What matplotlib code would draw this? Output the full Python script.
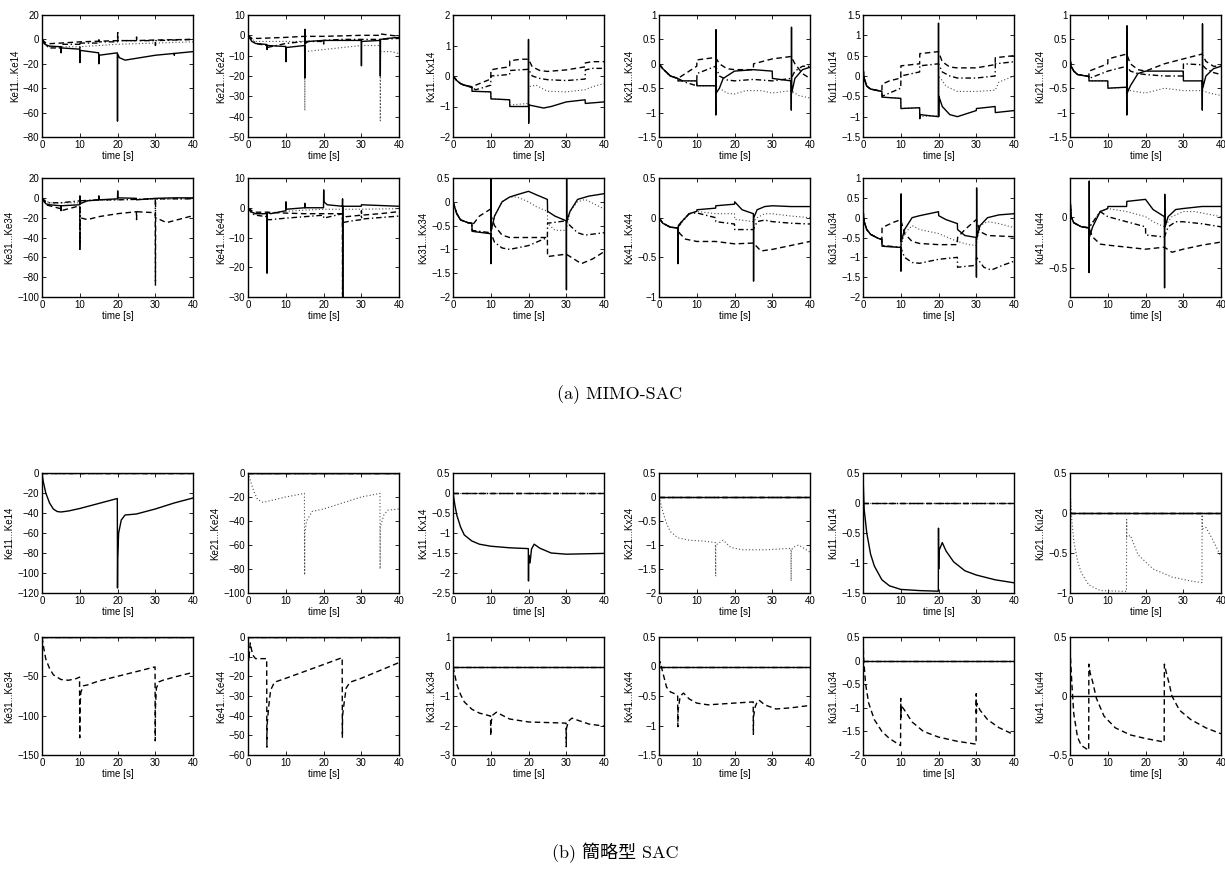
import matplotlib.pyplot as plt
from matplotlib.ticker import FuncFormatter

# ---------------- (a) MIMO-SAC : gains K11..K14 / K21..K24 ----------------
a_ke1 = {
    'solid': [(0, 0), (0.5, -3), (1, -4.5), (2, -5.5), (5, -6), (5.05, -10), (5.1, -7), (10, -8), (10.05, -19),
              (10.1, -9), (15, -11), (15.05, -20), (15.1, -13), (19.95, -11), (20, -67), (20.05, -12), (20.5, -15),
              (22, -17), (26, -15), (30, -13), (35, -11.5), (35.05, -13), (35.1, -11.5), (40, -10)],
    'dashed': [(0, 0), (1, -3), (2, -3.5), (5, -3), (10, -2), (15, -1.5), (20, -1), (25, -1), (30, -0.5), (40, 0)],
    'dashdot': [(0, 0), (1, -5), (2, -7), (5, -7), (5.05, -11), (5.1, -4), (10, -4), (10.05, -12), (10.1, -3),
                (15, -3), (15.05, 1), (15.1, -2), (20, -2), (20.05, 7), (20.1, -1), (25, -1), (25.05, 2), (25.1, -1),
                (30, -1), (30.05, -5), (30.1, -1), (40, 0)],
    'dotted': [(0, 0), (1, -4), (2, -6), (10, -6), (15, -5), (20, -4), (25, -3.5), (30, -3), (35, -2.5), (40, -2)],
}
a_ke2 = {
    'solid': [(0, 0), (1, -3), (2, -4), (5, -4.5), (5.05, -7), (5.1, -5), (10, -5.5), (10.05, -13), (10.1, -6),
              (15, -5), (15.05, -21), (15.1, 3), (15.15, -4), (16, -3), (20, -2.5), (25, -2.5), (30, -2.5),
              (30.05, -15), (30.1, -3), (35, -2.5), (35.05, -20), (35.1, -2), (37, -1.5), (40, -1)],
    'dashed': [(0, 0), (1, -1.5), (3, -1.5), (10, -1), (15, -0.5), (20, -0.5), (30, 0), (35, 0), (35.05, 0.7),
               (40, -0.5)],
    'dashdot': [(0, 0), (1, -2), (2, -4), (5, -5), (5.05, -6), (10, -4), (15, -3), (20, -3), (20.05, -5),
                (20.1, -2.5), (25, -2), (30, -2), (35, -2), (40, -1.5)],
    'dotted': [(0, 0), (1, -2), (2, -3), (10, -3), (15, -3), (15.05, -37), (15.1, -8), (20, -7), (25, -6), (30, -5),
               (35, -5), (35.05, -42), (35.1, -8), (38, -8), (40, -9)],
}
a_kx1 = {
    'solid': [(0, 0), (1, -0.15), (2, -0.25), (3, -0.3), (5, -0.35), (5.05, -0.5), (10, -0.52), (10.05, -0.75),
              (15, -0.78), (15.05, -1.0), (19.95, -1.0), (20, 1.2), (20.05, -1.55), (20.1, -0.95), (24, -1.05),
              (26, -1.0), (30, -0.85), (35, -0.78), (35.05, -0.9), (40, -0.85)],
    'dashed': [(0, 0), (1, -0.15), (2, -0.25), (3, -0.3), (5, -0.38), (6, -0.3), (8, -0.2), (10, -0.1),
               (10.05, 0.2), (12, 0.25), (15, 0.3), (15.05, 0.5), (18, 0.55), (20, 0.55), (21, 0.3), (23, 0.18),
               (25, 0.15), (30, 0.2), (35, 0.3), (35.05, 0.43), (37, 0.47), (40, 0.47)],
    'dashdot': [(0, 0), (1, -0.15), (2, -0.25), (3, -0.3), (5, -0.38), (6, -0.45), (8, -0.38), (10, -0.3),
                (10.05, 0.0), (15, 0.05), (15.05, 0.18), (20, 0.22), (21, 0.0), (23, -0.08), (25, -0.12),
                (30, -0.15), (35, -0.1), (35.05, 0.2), (37, 0.25), (40, 0.25)],
    'dotted': [(0, 0), (1, -0.15), (2, -0.25), (3, -0.3), (5, -0.35), (5.05, -0.5), (10, -0.52), (10.05, -0.75),
               (15, -0.78), (15.05, -0.95), (20, -0.9), (20.05, -0.35), (22, -0.3), (25, -0.5), (30, -0.52),
               (35, -0.45), (37, -0.35), (40, -0.25)],
}
a_kx2 = {
    'solid': [(0, 0), (1, -0.1), (3, -0.25), (5, -0.3), (5.05, -0.35), (10, -0.35), (10.05, -0.45), (15, -0.45),
              (15.05, -1.05), (15.1, 0.7), (15.15, -0.6), (16, -0.5), (17, -0.3), (20, -0.15), (25, -0.12),
              (30, -0.15), (30.05, -0.3), (35, -0.35), (35.05, -0.95), (35.1, 0.75), (35.15, -0.6), (36, -0.3),
              (38, -0.12), (40, -0.07)],
    'dashed': [(0, 0), (1, -0.1), (3, -0.25), (5, -0.3), (7, -0.2), (10, -0.05), (10.05, 0.08), (15, 0.13),
               (16, 0.0), (18, -0.1), (20, -0.12), (25, -0.12), (25.05, 0.0), (30, 0.1), (35, 0.15), (36, 0.0),
               (38, -0.2), (40, -0.3)],
    'dashdot': [(0, 0), (1, -0.1), (3, -0.25), (5, -0.3), (7, -0.38), (10, -0.45), (10.05, -0.2), (15, -0.05),
                (16, -0.25), (18, -0.33), (20, -0.35), (25, -0.32), (30, -0.35), (35, -0.3), (36, -0.15),
                (38, -0.05), (40, -0.05)],
    'dotted': [(0, 0), (1, -0.1), (3, -0.25), (5, -0.3), (5.05, -0.35), (10, -0.35), (10.05, -0.45), (15, -0.45),
               (16, -0.5), (18, -0.6), (20, -0.62), (23, -0.55), (27, -0.55), (30, -0.6), (35, -0.55), (37, -0.65),
               (40, -0.7)],
}
a_ku1 = {
    'solid': [(0, 0.2), (0.3, -0.05), (1, -0.25), (2, -0.32), (5, -0.38), (5.05, -0.52), (10, -0.55),
              (10.05, -0.8), (15, -0.78), (15.05, -1.05), (15.1, -0.95), (19.95, -1.0), (20, 1.3), (20.05, -1.0),
              (20.1, -0.5), (21, -0.75), (23, -0.95), (25, -1.0), (30, -0.85), (30.05, -0.8), (35, -0.75),
              (35.05, -0.9), (40, -0.85)],
    'dashed': [(0, 0.2), (0.3, -0.05), (1, -0.25), (2, -0.32), (5, -0.38), (5.05, -0.2), (7, -0.12), (10, -0.05),
               (10.05, 0.25), (15, 0.3), (15.05, 0.55), (20, 0.6), (21, 0.35), (23, 0.22), (25, 0.2), (30, 0.2),
               (35, 0.28), (35.05, 0.45), (40, 0.5)],
    'dashdot': [(0, 0.2), (0.3, -0.05), (1, -0.25), (2, -0.32), (5, -0.38), (5.05, -0.5), (7, -0.42), (10, -0.3),
                (10.05, 0.0), (15, 0.1), (15.05, 0.25), (20, 0.3), (21, 0.1), (23, 0.0), (25, -0.05), (30, -0.05),
                (35, 0.0), (35.05, 0.3), (40, 0.35)],
    'dotted': [(0, 0.2), (0.3, -0.05), (1, -0.25), (2, -0.32), (5, -0.38), (5.05, -0.52), (10, -0.55),
               (10.05, -0.8), (15, -0.78), (15.05, -1.0), (20, -0.98), (20.1, 0.0), (22, -0.25), (25, -0.38),
               (30, -0.38), (35, -0.35), (36, -0.15), (40, 0.0)],
}
a_ku2 = {
    'solid': [(0, 0.1), (0.3, -0.05), (1, -0.15), (2, -0.22), (5, -0.26), (5.05, -0.35), (10, -0.35),
              (10.05, -0.5), (15, -0.48), (15.05, -1.05), (15.1, 0.78), (15.15, -0.6), (16, -0.45), (18, -0.2),
              (20, -0.15), (25, -0.15), (30, -0.15), (30.05, -0.35), (35, -0.35), (35.05, -0.95), (35.1, 0.82),
              (35.15, -0.5), (36, -0.25), (38, -0.1), (40, -0.05)],
    'dashed': [(0, 0.1), (0.3, -0.05), (1, -0.15), (2, -0.22), (5, -0.26), (5.05, -0.15), (10, 0.0), (10.05, 0.1),
               (15, 0.2), (16, 0.0), (18, -0.12), (20, -0.15), (25, 0.0), (30, 0.1), (35, 0.2), (36, 0.05),
               (38, -0.05), (40, -0.05)],
    'dashdot': [(0, 0.1), (0.3, -0.05), (1, -0.15), (2, -0.22), (5, -0.26), (5.05, -0.3), (10, -0.15),
                (15, -0.05), (16, -0.15), (18, -0.2), (20, -0.22), (25, -0.25), (30, -0.25), (30.05, 0.0),
                (35, -0.02), (36, -0.1), (38, -0.18), (40, -0.22)],
    'dotted': [(0, 0.1), (0.3, -0.05), (1, -0.15), (2, -0.22), (5, -0.26), (5.05, -0.35), (10, -0.35),
               (10.05, -0.5), (15, -0.48), (16, -0.55), (20, -0.6), (25, -0.5), (30, -0.55), (35, -0.55),
               (37, -0.6), (40, -0.65)],
}

# ---------------- (a) MIMO-SAC : gains K31..K34 / K41..K44 ----------------
a_ke3 = {
    'solid': [(0, 0), (1, -6), (2, -7), (5, -8), (5.05, -13), (5.1, -8), (10, -7), (10.05, 2), (10.1, -6), (12, -3),
              (15, -2), (15.05, 2), (15.1, -2), (20, -1), (20.05, 7), (20.1, 0), (25, -0.5), (25.05, -2), (30, -0.5),
              (35, 0), (40, 0)],
    'dashed': [(0, 0), (1, -7), (2, -8), (5, -11), (5.05, -13), (10, -8), (10.05, -50), (10.1, -20), (12, -22),
               (15, -19), (20, -16), (25, -14), (25.05, -22), (25.1, -14), (30, -15), (30.05, -88), (30.1, -20),
               (33, -25), (36, -22), (40, -18)],
    'dashdot': [(0, 0), (1, -4), (2, -5), (5, -5), (10, -3), (10.05, -52), (10.1, -3), (15, -2), (20, -2),
                (25, -1.5), (30, -1), (30.05, -18), (30.1, -1), (40, -1)],
    'dotted': [(0, 0), (1, -3), (2, -5), (5, -5), (10, -5), (12, -3), (20, -2), (30, -1.5), (40, -1)],
}
a_ke4 = {
    'solid': [(0, 0), (1, -1.5), (2, -2), (5, -2), (5.05, -22), (5.1, -1.5), (6, -2), (10, -1), (10.05, 2),
              (10.1, -0.5), (15, 0), (15.05, 1.5), (15.1, 0), (20, 0), (20.05, 6), (20.1, 2), (21, 1), (25, 0.5),
              (25.05, 3), (25.1, -30), (25.15, 0.5), (30, 0.5), (30.05, 1), (40, 0.5)],
    'dashed': [(0, 0), (1, -1), (2, -1.5), (5, -1.5), (10, -1.8), (15, -2), (20, -2), (25, -2), (25.05, -4.5),
               (26, -3), (30, -2.5), (35, -2), (40, -1.3)],
    'dashdot': [(0, 0), (1, -2), (2, -2.5), (5, -3), (5.05, -4), (6, -4), (10, -3.5), (15, -3), (20, -2.5),
                (20.05, -3.5), (25, -2), (25.05, -30), (25.1, -5), (27, -4.5), (30, -4), (30.05, -1), (30.1, -3.8),
                (35, -3.3), (40, -2.8)],
    'dotted': [(0, 0), (1, -1.5), (2, -2), (5, -2), (10, -1.2), (15, -0.8), (20, -0.5), (25, -0.5), (30, -0.5),
               (40, -0.3)],
}
a_kx3 = {
    'solid': [(0, 0), (1, -0.25), (2, -0.38), (4, -0.44), (5, -0.45), (5.05, -0.62), (10, -0.67), (10.05, -1.3),
              (10.1, 0.5), (10.15, -0.6), (11, -0.3), (13, 0.0), (15, 0.1), (17, 0.15), (20, 0.22), (22, 0.15),
              (25, 0.05), (25.05, -0.2), (27, -0.3), (30, -0.4), (30.05, -1.85), (30.1, 0.5), (30.15, -0.4),
              (31, -0.2), (33, 0.05), (36, 0.12), (40, 0.17)],
    'dashed': [(0, 0), (1, -0.25), (2, -0.38), (4, -0.44), (5, -0.45), (5.05, -0.5), (7, -0.3), (10, -0.15),
               (10.05, 0.5), (10.1, -0.3), (11, -0.5), (13, -0.7), (15, -0.75), (20, -0.75), (25, -0.75),
               (25.05, -1.15), (28, -1.12), (30, -1.1), (32, -1.2), (34, -1.3), (37, -1.2), (40, -1.05)],
    'dashdot': [(0, 0), (1, -0.25), (2, -0.38), (4, -0.44), (5, -0.45), (5.05, -0.6), (10, -0.65), (11, -0.85),
                (13, -0.97), (15, -1.0), (20, -0.92), (25, -0.75), (25.05, -0.45), (28, -0.42), (30, -0.4),
                (31, -0.5), (33, -0.65), (35, -0.7), (40, -0.65)],
    'dotted': [(0, 0), (1, -0.25), (2, -0.38), (4, -0.44), (5, -0.45), (5.05, -0.62), (10, -0.67), (11, -0.3),
               (13, 0.0), (15, 0.1), (17, 0.1), (20, 0.0), (22, -0.1), (25, -0.2), (25.05, -0.45), (27, -0.6),
               (30, -0.6), (31, -0.2), (33, 0.0), (35, 0.05), (40, -0.15)],
}
a_kx4 = {
    'solid': [(0, 0), (1, -0.07), (3, -0.12), (5, -0.13), (5.05, -0.58), (5.1, -0.1), (6, -0.05), (8, 0.05),
              (10, 0.08), (10.05, 0.1), (15, 0.12), (15.05, 0.15), (20, 0.17), (20.05, 0.2), (22, 0.1), (25, 0.05),
              (25.05, -0.8), (25.1, 0.0), (26, 0.1), (28, 0.14), (30, 0.15), (35, 0.14), (40, 0.14)],
    'dashed': [(0, 0), (1, -0.07), (3, -0.12), (5, -0.13), (5.5, -0.2), (7, -0.27), (10, -0.3), (15, -0.3),
               (20, -0.33), (25, -0.32), (27, -0.42), (30, -0.4), (35, -0.35), (40, -0.3)],
    'dashdot': [(0, 0), (1, -0.07), (3, -0.12), (5, -0.13), (6, -0.05), (8, 0.05), (10, 0.06), (15, 0.0),
                (15.05, -0.05), (20, -0.08), (20.05, -0.15), (25, -0.15), (26, -0.05), (28, -0.03), (30, -0.05),
                (35, -0.07), (40, -0.08)],
    'dotted': [(0, 0), (1, -0.07), (3, -0.12), (5, -0.13), (8, 0.05), (10, 0.08), (15, 0.05), (20, 0.05),
               (20.05, -0.02), (25, -0.05), (26, 0.0), (28, 0.05), (30, 0.05), (35, 0.02), (40, 0.0)],
}
a_ku3 = {
    'solid': [(0, 0.2), (0.3, -0.1), (1, -0.3), (2, -0.42), (4, -0.52), (5, -0.55), (5.05, -0.72), (10, -0.75),
              (10.05, -1.35), (10.1, 0.6), (10.15, -0.6), (11, -0.3), (13, 0.0), (15, 0.05), (20, 0.15),
              (20.05, 0.05), (22, -0.05), (25, -0.15), (25.05, -0.3), (27, -0.45), (30, -0.5), (30.05, -1.5),
              (30.1, 0.75), (30.15, -0.5), (31, -0.2), (33, 0.0), (36, 0.07), (40, 0.1)],
    'dashed': [(0, 0.2), (0.3, -0.1), (1, -0.3), (2, -0.42), (4, -0.52), (5, -0.55), (5.05, -0.25), (8, -0.12),
               (10, -0.05), (11, -0.4), (13, -0.6), (15, -0.65), (20, -0.68), (25, -0.68), (25.05, -0.5), (27, -0.3),
               (30, -0.05), (31, -0.35), (33, -0.45), (40, -0.48)],
    'dashdot': [(0, 0.2), (0.3, -0.1), (1, -0.3), (2, -0.42), (4, -0.52), (5, -0.55), (5.05, -0.7), (10, -0.75),
                (11, -1.0), (13, -1.13), (15, -1.15), (20, -1.05), (25, -1.0), (25.05, -1.25), (30, -1.2),
                (30.05, -1.0), (32, -1.25), (34, -1.32), (37, -1.2), (40, -1.1)],
    'dotted': [(0, 0.2), (0.3, -0.1), (1, -0.3), (2, -0.42), (4, -0.52), (5, -0.55), (5.05, -0.72), (10, -0.75),
               (11, -0.4), (13, -0.2), (15, -0.3), (20, -0.4), (25, -0.6), (28, -0.68), (30, -0.7), (31, -0.2),
               (33, -0.1), (36, -0.15), (40, -0.25)],
}
a_ku4 = {
    'solid': [(0, 0.2), (0.3, 0.0), (1, -0.06), (3, -0.1), (5, -0.11), (5.05, -0.55), (5.1, 0.35), (5.15, -0.2),
              (6, -0.1), (8, 0.05), (10, 0.08), (10.05, 0.1), (15, 0.1), (15.05, 0.15), (20, 0.17), (22, 0.07),
              (25, 0.0), (25.05, -0.7), (25.1, 0.22), (25.15, -0.1), (26, 0.0), (28, 0.07), (30, 0.08), (35, 0.1),
              (40, 0.1)],
    'dashed': [(0, 0.2), (0.3, 0.0), (1, -0.06), (3, -0.1), (5, -0.11), (6, -0.2), (8, -0.27), (10, -0.28),
               (15, -0.3), (20, -0.32), (25, -0.3), (27, -0.35), (30, -0.32), (35, -0.28), (40, -0.25)],
    'dashdot': [(0, 0.2), (0.3, 0.0), (1, -0.06), (3, -0.1), (5, -0.11), (8, 0.05), (10, 0.0), (15, -0.05),
                (20, -0.1), (20.05, -0.18), (25, -0.2), (26, -0.1), (28, -0.05), (30, -0.05), (35, -0.07),
                (40, -0.1)],
    'dotted': [(0, 0.2), (0.3, 0.0), (1, -0.06), (3, -0.1), (5, -0.11), (8, 0.05), (10, 0.08), (15, 0.05),
               (20, 0.0), (22, -0.05), (25, -0.1), (27, 0.0), (30, 0.05), (33, 0.05), (40, 0.0)],
}

# ---------------- (b) simplified SAC ----------------
zero = [(0, 0), (40, 0)]
b_ke1 = {'dashed': zero, 'dashdot': zero, 'dotted': zero,
         'solid': [(0, 0), (0.3, -8), (1, -20), (2, -30), (3, -36), (4, -38.5), (5, -39), (7, -38), (10, -35.5),
                   (15, -30.5), (19.95, -25.5), (20, -115), (20.05, -85), (20.3, -60), (21, -47), (22, -42),
                   (25, -41), (30, -36), (35, -30), (40, -25)]}
b_ke2 = {'solid': zero, 'dashed': zero, 'dashdot': zero,
         'dotted': [(0, 0), (0.5, -5), (1.5, -15), (2.5, -22), (4, -24.5), (6, -23), (10, -20), (14.95, -17),
                    (15, -85), (15.05, -50), (15.5, -40), (17, -32), (20, -30), (25, -25), (30, -20), (34.95, -17),
                    (35, -80), (35.05, -45), (36, -35), (37, -31), (40, -30)]}
b_kx1 = {'dashed': zero, 'dashdot': zero, 'dotted': zero,
         'solid': [(0, 0), (0.5, -0.3), (1, -0.55), (2, -0.85), (3, -1.05), (5, -1.2), (7, -1.28), (10, -1.33),
                   (15, -1.37), (19.95, -1.39), (20, -2.2), (20.05, -1.55), (20.4, -1.75), (20.8, -1.4),
                   (21.5, -1.28), (23, -1.38), (26, -1.5), (30, -1.53), (35, -1.52), (40, -1.51)]}
b_kx2 = {'dashed': zero, 'dashdot': zero, 'solid': zero,
         'dotted': [(0, 0), (1, -0.3), (2, -0.55), (3, -0.72), (5, -0.85), (8, -0.9), (12, -0.92), (14.95, -0.95),
                    (15, -1.65), (15.05, -1.0), (16, -0.95), (17, -0.9), (19, -1.05), (22, -1.1), (28, -1.1),
                    (34.95, -1.07), (35, -1.75), (35.05, -1.1), (36, -1.03), (37, -1.0), (40, -1.15)]}
b_ku1 = {'dashed': zero, 'dashdot': zero, 'dotted': zero,
         'solid': [(0, 0.45), (0.3, -0.1), (1, -0.5), (2, -0.85), (3, -1.05), (5, -1.28), (7, -1.38), (10, -1.44),
                   (15, -1.46), (19.95, -1.47), (20, -0.42), (20.05, -1.1), (20.1, -0.8), (21, -0.66), (22, -0.8),
                   (24, -0.98), (27, -1.13), (30, -1.2), (35, -1.28), (40, -1.33)]}
b_ku2 = {'dashed': zero, 'dashdot': zero, 'solid': zero,
         'dotted': [(0, 0.3), (0.5, -0.1), (1, -0.35), (2, -0.6), (3, -0.75), (5, -0.9), (8, -0.97),
                    (14.95, -0.98), (15, -0.08), (15.05, -0.3), (16, -0.28), (18, -0.52), (22, -0.7), (27, -0.8),
                    (32, -0.85), (34.95, -0.87), (35, 0.0), (35.05, -0.2), (36, -0.18), (38, -0.35), (40, -0.55)]}
b_ke3 = {'solid': zero, 'dashdot': zero, 'dotted': zero,
         'dashed': [(0, 0), (0.5, -15), (1, -28), (2, -40), (3, -48), (5, -54), (7, -55), (9, -53), (9.95, -51),
                    (10, -128), (10.05, -90), (10.3, -70), (11, -62), (12, -61), (15, -56), (20, -50), (25, -44),
                    (29.95, -38), (30, -132), (30.05, -90), (30.3, -65), (31, -57), (32, -55), (35, -51),
                    (40, -45)]}
b_ke4 = {'solid': zero, 'dashdot': zero, 'dotted': zero,
         'dashed': [(0, 0), (0.2, -12), (0.6, -3), (1.2, -9), (2, -11), (4.95, -11), (5, -56), (5.05, -45),
                    (5.5, -35), (6, -27), (7, -23), (10, -21), (15, -17.5), (20, -14), (24.95, -10.5), (25, -51),
                    (25.05, -40), (25.5, -33), (26, -26), (27, -23), (30, -21), (35, -17), (40, -13)]}
b_kx3 = {'solid': zero, 'dashdot': zero, 'dotted': zero,
         'dashed': [(0, 0), (0.5, -0.3), (1, -0.6), (2, -0.95), (3, -1.2), (5, -1.45), (7, -1.58), (9.95, -1.68),
                    (10, -2.35), (10.05, -1.9), (10.5, -1.65), (11.5, -1.55), (13, -1.65), (15, -1.78), (20, -1.88),
                    (25, -1.9), (29.95, -1.92), (30, -2.72), (30.05, -2.1), (30.6, -1.85), (31.5, -1.75),
                    (33, -1.82), (36, -1.95), (40, -2.02)]}
b_kx4 = {'solid': zero, 'dashdot': zero, 'dotted': zero,
         'dashed': [(0, 0), (0.3, 0.08), (0.8, -0.05), (2, -0.35), (3, -0.43), (4.5, -0.47), (4.95, -0.5),
                    (5, -1.02), (5.05, -0.75), (5.5, -0.55), (6, -0.48), (6.5, -0.45), (8, -0.55), (10, -0.62),
                    (13, -0.65), (20, -0.62), (24.95, -0.6), (25, -1.15), (25.05, -0.85), (25.5, -0.68), (26, -0.6),
                    (26.5, -0.57), (28, -0.65), (31, -0.72), (35, -0.7), (40, -0.66)]}
b_ku3 = {'solid': zero, 'dashdot': zero, 'dotted': zero,
         'dashed': [(0, 0.45), (0.2, 0.0), (0.7, -0.5), (1.5, -0.9), (3, -1.25), (5, -1.5), (7, -1.65),
                    (9.95, -1.8), (10, -0.8), (10.05, -1.2), (10.1, -0.95), (11, -1.05), (13, -1.3), (16, -1.5),
                    (20, -1.62), (25, -1.71), (29.95, -1.77), (30, -0.7), (30.05, -1.1), (30.1, -0.9), (31, -1.05),
                    (33, -1.25), (36, -1.42), (40, -1.57)]}
b_ku4 = {'solid': zero,
         'dashed': [(0, 0.4), (0.5, 0.1), (1, -0.15), (2, -0.35), (3, -0.42), (4.95, -0.46), (5, 0.27), (5.3, 0.2),
                    (6, 0.12), (7, -0.02), (9, -0.17), (12, -0.27), (16, -0.33), (20, -0.36), (24.95, -0.39),
                    (25, 0.27), (25.5, 0.2), (26.3, 0.1), (27, 0.0), (29, -0.12), (32, -0.2), (36, -0.27),
                    (40, -0.32)]}

labels_top = ['Ke11...Ke14', 'Ke21...Ke24', 'Kx11...Kx14', 'Kx21...Kx24', 'Ku11...Ku14', 'Ku21...Ku24']
labels_bot = ['Ke31...Ke34', 'Ke41...Ke44', 'Kx31...Kx34', 'Kx41...Kx44', 'Ku31...Ku34', 'Ku41...Ku44']
time_ticks = [0, 10, 20, 30, 40]

rows = [
    # (panel data, y limits, y ticks) for each of the six columns
    [(a_ke1, (-80, 20), [-80, -60, -40, -20, 0, 20]),
     (a_ke2, (-50, 10), [-50, -40, -30, -20, -10, 0, 10]),
     (a_kx1, (-2, 2), [-2, -1, 0, 1, 2]),
     (a_kx2, (-1.5, 1), [-1.5, -1, -0.5, 0, 0.5, 1]),
     (a_ku1, (-1.5, 1.5), [-1.5, -1, -0.5, 0, 0.5, 1, 1.5]),
     (a_ku2, (-1.5, 1), [-1.5, -1, -0.5, 0, 0.5, 1])],
    [(a_ke3, (-100, 20), [-100, -80, -60, -40, -20, 0, 20]),
     (a_ke4, (-30, 10), [-30, -20, -10, 0, 10]),
     (a_kx3, (-2, 0.5), [-2, -1.5, -1, -0.5, 0, 0.5]),
     (a_kx4, (-1, 0.5), [-1, -0.5, 0, 0.5]),
     (a_ku3, (-2, 1), [-2, -1.5, -1, -0.5, 0, 0.5, 1]),
     (a_ku4, (-0.79, 0.38), [-0.5, 0])],
    [(b_ke1, (-120, 0), [-120, -100, -80, -60, -40, -20, 0]),
     (b_ke2, (-100, 0), [-100, -80, -60, -40, -20, 0]),
     (b_kx1, (-2.5, 0.5), [-2.5, -2, -1.5, -1, -0.5, 0, 0.5]),
     (b_kx2, (-2, 0.5), [-2, -1.5, -1, -0.5, 0, 0.5]),
     (b_ku1, (-1.5, 0.5), [-1.5, -1, -0.5, 0, 0.5]),
     (b_ku2, (-1, 0.5), [-1, -0.5, 0, 0.5])],
    [(b_ke3, (-150, 0), [-150, -100, -50, 0]),
     (b_ke4, (-60, 0), [-60, -50, -40, -30, -20, -10, 0]),
     (b_kx3, (-3, 1), [-3, -2, -1, 0, 1]),
     (b_kx4, (-1.5, 0.5), [-1.5, -1, -0.5, 0, 0.5]),
     (b_ku3, (-2, 0.5), [-2, -1.5, -1, -0.5, 0, 0.5]),
     (b_ku4, (-0.5, 0.5), [-0.5, 0, 0.5])],
]

styles = {
    'solid': dict(ls='-', lw=1.0, color='black'),
    'dashed': dict(ls=(0, (4, 2.5)), lw=1.0, color='black'),
    'dashdot': dict(ls=(0, (4, 2, 1, 2)), lw=1.0, color='black'),
    'dotted': dict(ls=(0, (1, 2)), lw=0.8, color='0.3'),
}

plt.rcParams['font.family'] = ['Liberation Sans', 'DejaVu Sans']
W, H = 1225, 869
fig = plt.figure(figsize=(W / 100, H / 100), dpi=100)

col_left = [42, 248, 453, 659, 863, 1070]
row_span = [(15, 137), (178, 297), (473, 593), (637, 755)]
ax_w = 151


def fmt(v, pos):
    return ('%g' % v).replace('-', '\u2212')


for r, row in enumerate(rows):
    top, bottom = row_span[r]
    names = labels_top if r % 2 == 0 else labels_bot
    for c, (panel, ylim, yticks) in enumerate(row):
        ax = fig.add_axes([col_left[c] / W, 1 - bottom / H, ax_w / W, (bottom - top) / H])
        for key in ['dotted', 'dashdot', 'dashed', 'solid']:
            if key in panel:
                pts = panel[key]
                ax.plot([p[0] for p in pts], [p[1] for p in pts], **styles[key])
        ax.set_xlim(0, 40)
        ax.set_ylim(*ylim)
        ax.set_xticks(time_ticks)
        ax.set_yticks(yticks)
        ax.yaxis.set_major_formatter(FuncFormatter(fmt))
        ax.tick_params(direction='in', top=True, right=True, length=3, width=0.6, labelsize=7, pad=2)
        for s in ax.spines.values():
            s.set_linewidth(1.0)
        ax.set_xlabel('time [s]', fontsize=7, labelpad=1)
        ax.set_ylabel(names[c], fontsize=7, labelpad=2)

fig.text(620 / W, 1 - 395 / H, '(a) MIMO-SAC', family=['cmr10'], fontsize=13, ha='center', va='center')
fig.text(615 / W, 1 - 853 / H, '(b) 簡略型 SAC', family=['cmr10', 'Noto Sans CJK JP'], fontsize=13,
         ha='center', va='center')

fig.savefig('out.png', dpi=100)
